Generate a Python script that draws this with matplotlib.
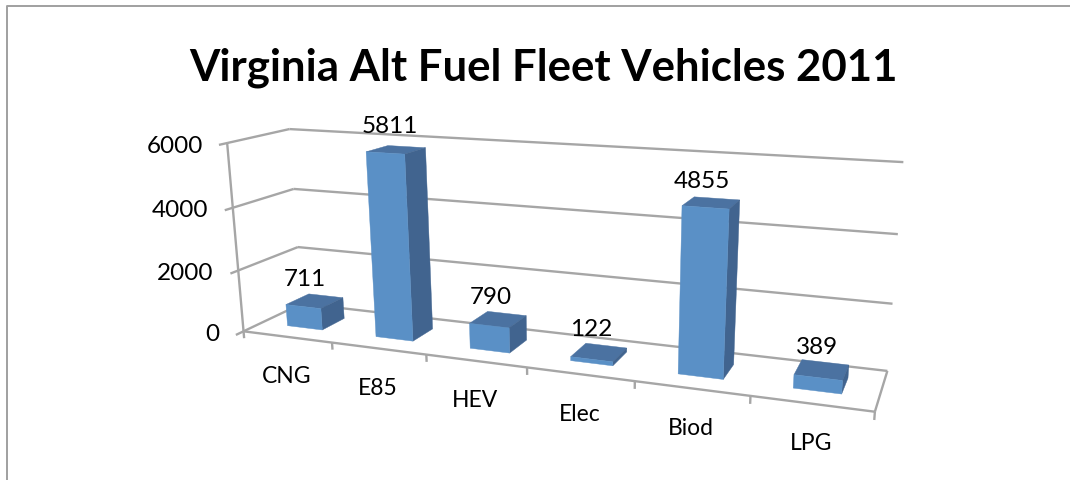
import numpy as np
import matplotlib
matplotlib.use("Agg")
import matplotlib.pyplot as plt
from matplotlib.patches import Polygon

plt.rcParams['font.family'] = ['Lato', 'DejaVu Sans']

TITLE = "Virginia Alt Fuel Fleet Vehicles 2011"
categories = ["CNG", "E85", "HEV", "Elec", "Biod", "LPG"]
values = [711, 5811, 790, 122, 4855, 389]
y_ticks = [0, 2000, 4000, 6000]

# Perspective calibration: (category pos, value, depth) -> reference pixel
CALIB = [
    (0, 0, 0, 243.3, 331), (0, 2000, 0, 238, 271), (0, 4000, 0, 233, 208), (0, 6000, 0, 227, 143),
    (0, 0, 1, 302, 304), (0, 2000, 1, 298, 247), (0, 4000, 1, 293, 189), (0, 6000, 1, 290, 129),
    (6, 0, 0, 875, 412), (6, 0, 1, 887, 371), (6, 2000, 1, 893, 303), (6, 4000, 1, 898, 235),
    (6, 6000, 1, 903, 161.5), (1, 0, 0, 332, 342), (2, 0, 0, 427, 354), (3, 0, 0, 527, 367),
    (4, 0, 0, 635, 382), (5, 0, 0, 750, 396),
]

def fit_camera(cal):
    rows = []
    for x, y, z, u, v in cal:
        p = [x / 6, y / 6000, z, 1]
        rows.append(p + [0, 0, 0, 0] + [-u * c for c in p])
        rows.append([0, 0, 0, 0] + p + [-v * c for c in p])
    _, _, vt = np.linalg.svd(np.array(rows, float))
    return vt[-1].reshape(3, 4)

CAM = fit_camera(CALIB)

def P(x, y, z):
    h = CAM @ np.array([x / 6, y / 6000, z, 1.0])
    return h[0] / h[2], h[1] / h[2]

GRID = "#A6A6A6"
FRONT, SIDE, TOP = "#5A90C6", "#41648F", "#4B72A1"
LBL_OFF = [(-10, -22), (-6, -23.5), (-7, -21.5), (-8, -22.5), (-9, -21), (-5, -22.5)]

fig = plt.figure(figsize=(10.7, 4.8), dpi=100, facecolor="white")
ax = fig.add_axes([0, 0, 1, 1])
ax.set_xlim(0, 1070)
ax.set_ylim(480, 0)
ax.axis("off")

def line(p, q, lw=1.7, c=GRID, zo=1):
    ax.plot([p[0], q[0]], [p[1], q[1]], color=c, lw=lw, solid_capstyle="butt", zorder=zo)

# Chart frame
ax.plot([7, 7, 1070], [480, 5.8, 5.8], color="#A0A0A0", lw=1.4, zorder=1)

# Walls and gridlines
for t in y_ticks:
    line(P(0, t, -0.12), P(0, t, 0))
    line(P(0, t, 0), P(0, t, 1))
    line(P(0, t, 1), P(6, t, 1))
line(P(0, 0, 0), P(0, 6000, 0))
line(P(0, 0, 0), P(6, 0, 0))
line(P(6, 0, 0), P(6, 0, 1))
for i in range(7):
    line(P(i, -230, 0), P(i, 0, 0))

# Bars
W0, W1 = 0.3, 0.7
for i, v in enumerate(values):
    a, b = i + W0, i + W1
    zo = 3 + i
    ax.add_patch(Polygon([P(a, v, W1), P(b, v, W1), P(b, v, W0), P(a, v, W0)], fc=TOP, ec=TOP, lw=0.3, zorder=zo))
    ax.add_patch(Polygon([P(b, 0, W0), P(b, 0, W1), P(b, v, W1), P(b, v, W0)], fc=SIDE, ec=SIDE, lw=0.3, zorder=zo))
    ax.add_patch(Polygon([P(a, 0, W0), P(b, 0, W0), P(b, v, W0), P(a, v, W0)], fc=FRONT, ec=FRONT, lw=0.3, zorder=zo))
    cx, cy = P(i + 0.5, v, 0.5)
    dx, dy = LBL_OFF[i]
    ax.text(cx + dx, cy + dy, str(v), fontsize=17.5, ha="center", va="center", color="black", zorder=20)

# Tick labels
for t in y_ticks:
    x0, y0 = P(0, t, 0)
    ax.text(x0 - 24.5, y0 + 3, str(t), fontsize=17.5, ha="right", va="center", color="black")
for i, c in enumerate(categories):
    x0, y0 = P(i + 0.5, 0, 0)
    ax.text(x0 - 0.5, y0 + 40, c, fontsize=16.5, ha="center", va="center", color="black")

ax.text(543.5, 67.5, TITLE, fontsize=31.5, fontweight="bold", ha="center", va="center", color="black")

fig.savefig("out.png", dpi=100)
